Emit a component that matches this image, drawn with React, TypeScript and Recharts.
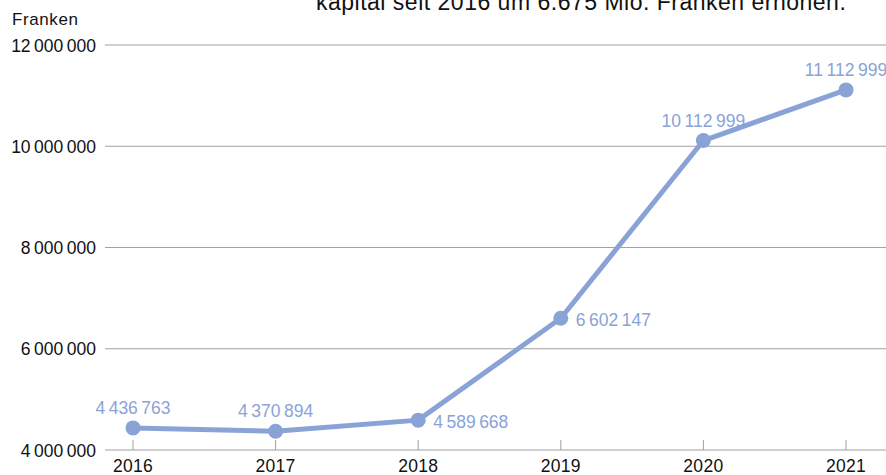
import { LineChart, Line, XAxis, YAxis, CartesianGrid, LabelList } from 'recharts';

const years = ['2016', '2017', '2018', '2019', '2020', '2021'];
const kapital = [4436763, 4370894, 4589668, 6602147, 10112999, 11112999];
const yTicks = [4000000, 6000000, 8000000, 10000000, 12000000];
// where each value label sits relative to its point
const labelSide = ['top', 'top', 'right', 'right', 'top', 'top'];

const FONT = '"Liberation Sans", Arial, Helvetica, sans-serif';
const BLUE = '#8aa3d6';
const GRID = '#a0a0a0';
const FS = 17.5;

const data = years.map((year, i) => ({ year, value: kapital[i] }));

const fmt = (v: number) => String(v).replace(/\B(?=(\d{3})+(?!\d))/g, '\u2009');

function XTick(props: any) {
  const { x, y, payload } = props;
  return (
    <g>
      <line x1={x} y1={y - 10} x2={x} y2={y} stroke={GRID} strokeWidth={1} />
      <text x={x} y={y + 22} textAnchor="middle" fontSize={FS} letterSpacing={0.3} fill="#111" fontFamily={FONT}>
        {payload.value}
      </text>
    </g>
  );
}

function YTick(props: any) {
  const { y, payload } = props;
  return (
    <text x={96} y={y + 6.5} textAnchor="end" fontSize={FS} fill="#111" fontFamily={FONT}>
      {fmt(payload.value)}
    </text>
  );
}

function ValueLabel(props: any) {
  const { x, y, value, index } = props;
  const side = labelSide[index];
  if (side === 'right') {
    return (
      <text x={x + 15} y={y + 8} textAnchor="start" fontSize={FS} fill={BLUE} fontFamily={FONT}>
        {fmt(value)}
      </text>
    );
  }
  return (
    <text x={x} y={y - 14} textAnchor="middle" fontSize={FS} fill={BLUE} fontFamily={FONT}>
      {fmt(value)}
    </text>
  );
}

export default function App() {
  return (
    <div style={{ position: 'absolute', left: 0, top: 0, width: 886, height: 475, overflow: 'hidden', background: '#fff' }}>
      <LineChart width={886} height={475} data={data} margin={{ top: 45, right: 0, bottom: 0, left: 0 }}>
        <CartesianGrid vertical={false} stroke={GRID} strokeDasharray="" />
        <XAxis
          dataKey="year"
          scale="point"
          padding={{ left: 28, right: 40 }}
          axisLine={false}
          tickLine={false}
          tickSize={0}
          tickMargin={0}
          height={25}
          tick={<XTick />}
          interval={0}
        />
        <YAxis
          type="number"
          domain={[4000000, 12000000]}
          ticks={yTicks}
          axisLine={false}
          tickLine={false}
          width={105}
          tick={<YTick />}
          interval={0}
        />
        <Line
          type="linear"
          dataKey="value"
          stroke={BLUE}
          strokeWidth={5}
          dot={{ r: 7.5, fill: BLUE, stroke: BLUE, strokeWidth: 0 }}
          activeDot={false}
          isAnimationActive={false}
        >
          <LabelList dataKey="value" content={<ValueLabel />} />
        </Line>
      </LineChart>
      <svg width={886} height={60} style={{ position: 'absolute', left: 0, top: 0, pointerEvents: 'none' }}>
        <text x={316} y={10} fontSize={23} letterSpacing={0.5} fill="#111" fontFamily={FONT}>
          kapital seit 2016 um 6.675 Mio. Franken erhöhen.
        </text>
        <text x={12} y={25} fontSize={17} letterSpacing={0.6} fill="#111" fontFamily={FONT}>
          Franken
        </text>
      </svg>
    </div>
  );
}
